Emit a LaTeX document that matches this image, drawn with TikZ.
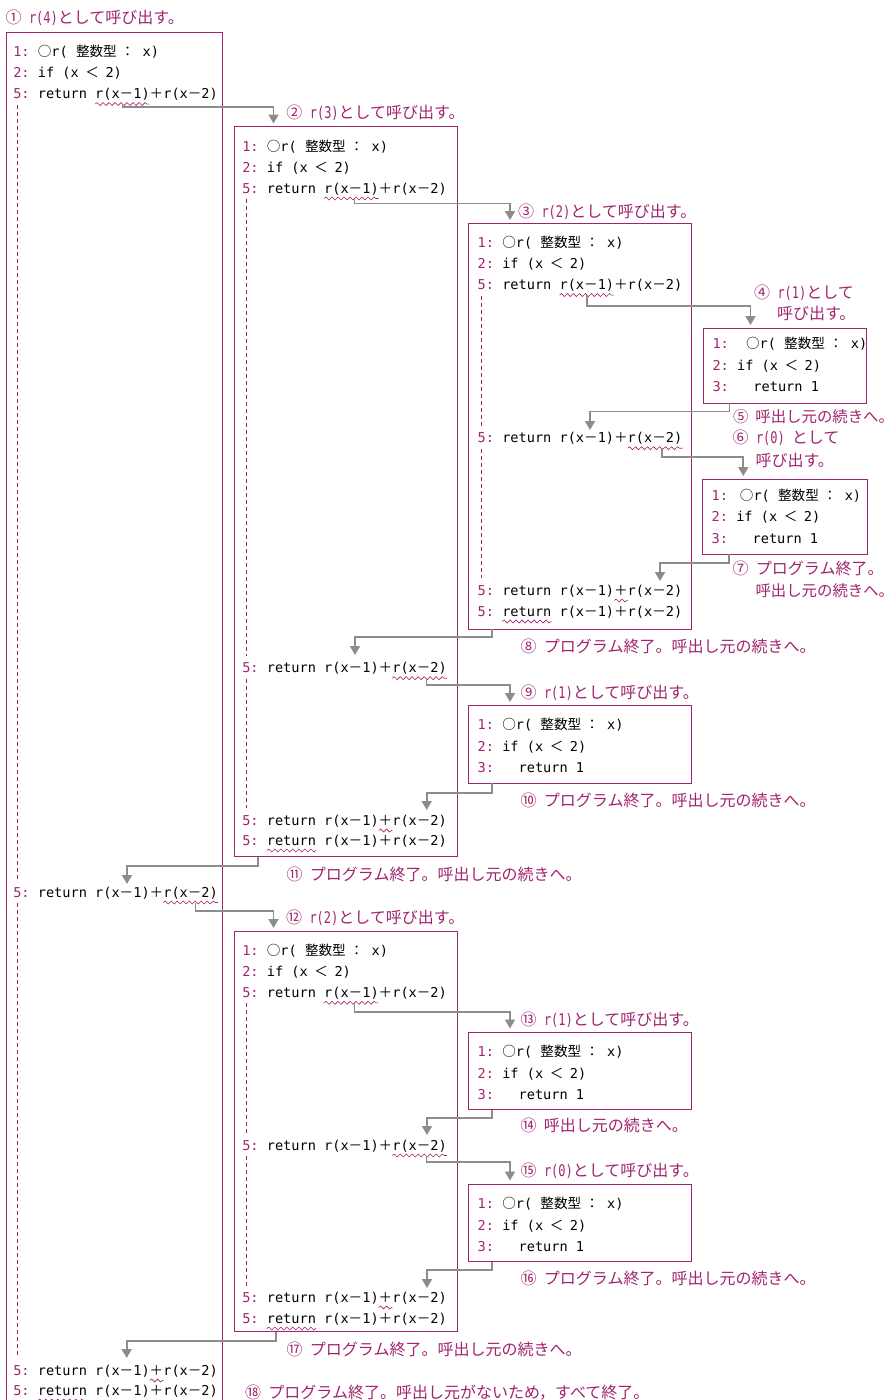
\documentclass[tikz,border=0pt]{standalone}
\usepackage{fontspec}
\usetikzlibrary{arrows.meta,decorations.pathmorphing}
\newfontfamily\cjk{Noto Sans CJK JP}
\newfontfamily\mono{DejaVu Sans Mono}
\newfontfamily\monoc{DejaVu Sans Mono}[FakeStretch=0.75]
\definecolor{mag}{RGB}{160,35,110}
\definecolor{arrgray}{RGB}{140,140,140}
\newlength\cw
\setlength\cw{8.188pt}
\newcommand\J[1]{{\cjk #1}}
\newcommand\LN[1]{\textcolor{mag}{#1}}
\newcommand\lm[1]{{\monoc\fontsize{16}{18}\selectfont #1}}
\newcommand\cfirst[4][1]{\node[code] (#2) at (#3,#4) {\LN{1:}\hspace{#1\cw}\J{○}r(\hspace{\cw}\J{整数型}\hspace{0.5\cw}\J{：}\hspace{\cw}x)};}
\newcommand\csecond[3]{\node[code] (#1) at (#2,#3) {\LN{2:}\hspace{\cw}if (x\hspace{0.8\cw}\J{＜}\hspace{0.8\cw}2)};}
\newcommand\cthird[3]{\node[code] (#1) at (#2,#3) {\LN{3:}\hspace{3\cw}return 1};}
\newcommand\cret[3]{%
  \node[code] (#1) at (#2,#3) {\LN{5:}};
  \node[code] (#1r) at ([xshift=\cw]#1.base east) {return};
  \node[code] (#1a) at ([xshift=\cw]#1r.base east) {r(x\J{－}1)};
  \node[code] (#1p) at (#1a.base east) {\J{＋}};
  \node[code] (#1b) at (#1p.base east) {r(x\J{－}2)};}
\newcommand\wav[1]{\draw[wavy] ([yshift=-5.5pt]#1.base west) -- ([yshift=-5.5pt]#1.base east);}
\tikzset{
  code/.style={anchor=base west, inner sep=0pt, outer sep=0pt, font=\mono\fontsize{13.6}{16}\selectfont, text=black},
  lab/.style={anchor=base west, inner sep=0pt, outer sep=0pt, font=\cjk\fontsize{16}{19}\selectfont, text=mag},
  labs/.style={lab, font=\cjk\fontsize{15.4}{18}\selectfont},
  frame/.style={draw=mag, line width=1pt, rectangle, inner sep=0pt, outer sep=0pt, anchor=north west},
  wavy/.style={draw=mag, line width=0.6pt, decorate, decoration={snake, amplitude=1.5pt, segment length=6pt}},
  gutter/.style={draw=mag, line width=0.7pt, dash pattern=on 4pt off 3pt},
  arr/.style={draw=arrgray, line width=1.8pt, -{Triangle[length=9pt,width=10pt]}},
}
\begin{document}
\begin{tikzpicture}[x=1pt,y=-1pt]
\useasboundingbox (0,0) rectangle (893,1400);
% ---- frames
\draw[draw=mag, line width=1pt] (6,1400) -- (6,32.3) -- (222.5,32.3) -- (222.5,1400);
\node[frame, minimum width=223pt, minimum height=730pt] (B2) at (234.3,126.7) {};
\node[frame, minimum width=223.4pt, minimum height=406pt] (B3) at (468.3,223.3) {};
\node[frame, minimum width=163pt, minimum height=75pt] (B4) at (703,328) {};
\node[frame, minimum width=164.5pt, minimum height=75pt] (B5) at (702.5,479.3) {};
\node[frame, minimum width=223.4pt, minimum height=78pt] (B6) at (468.3,705) {};
\node[frame, minimum width=223pt, minimum height=400.7pt] (B7) at (234.3,931) {};
\node[frame, minimum width=223.4pt, minimum height=77.5pt] (B8) at (468.3,1032) {};
\node[frame, minimum width=223.4pt, minimum height=77.5pt] (B9) at (468.3,1184) {};
% ---- box 1
\cfirst{b1a}{13.3}{56.6}
\csecond{b1b}{13.3}{77.6}
\cret{b1c}{13.3}{98.6}
\cret{b1d}{13.3}{897}
\cret{b1e}{13.3}{1375}
\cret{b1f}{13.3}{1395}
% ---- box 2
\cfirst{b2a}{242.3}{151}
\csecond{b2b}{242.3}{172}
\cret{b2c}{242.3}{193}
\cret{b2d}{242.3}{672.7}
\cret{b2e}{242.3}{825}
\cret{b2f}{242.3}{845}
% ---- box 3
\cfirst{b3a}{477.7}{247.6}
\csecond{b3b}{477.7}{268.6}
\cret{b3c}{477.7}{289.6}
\cret{b3d}{477.7}{442.7}
\cret{b3e}{477.7}{595}
\cret{b3f}{477.7}{616}
% ---- box 4, 5
\cfirst[2.1]{b4a}{712.5}{348.3}
\csecond{b4b}{712.5}{370}
\cthird{b4c}{712.5}{391.3}
\cfirst[1.45]{b5a}{711.7}{500}
\csecond{b5b}{711.7}{521.7}
\cthird{b5c}{711.7}{543.3}
% ---- box 6
\cfirst{b6a}{477.7}{729.3}
\csecond{b6b}{477.7}{751}
\cthird{b6c}{477.7}{772.7}
% ---- box 7
\cfirst{b7a}{242.3}{955.3}
\csecond{b7b}{242.3}{976.3}
\cret{b7c}{242.3}{997.3}
\cret{b7d}{242.3}{1150}
\cret{b7e}{242.3}{1302}
\cret{b7f}{242.3}{1323}
% ---- box 8, 9
\cfirst{b8a}{477.7}{1056.3}
\csecond{b8b}{477.7}{1078}
\cthird{b8c}{477.7}{1099.7}
\cfirst{b9a}{477.7}{1208.3}
\csecond{b9b}{477.7}{1230}
\cthird{b9c}{477.7}{1251.7}
% ---- wavy underlines
\wav{b1ca}\wav{b1db}\wav{b1ep}\wav{b1fr}
\wav{b2ca}\wav{b2db}\wav{b2ep}\wav{b2fr}
\wav{b3ca}\wav{b3db}\wav{b3ep}\wav{b3fr}
\wav{b7ca}\wav{b7db}\wav{b7ep}\wav{b7fr}
% ---- gutters
\draw[gutter] (17,104.5) -- (17,880);
\draw[gutter] (17,903) -- (17,1357);
\draw[gutter] (246,199) -- (246,656);
\draw[gutter] (246,679) -- (246,808);
\draw[gutter] (481.4,295.5) -- (481.4,426);
\draw[gutter] (481.4,449) -- (481.4,578);
\draw[gutter] (246,1003) -- (246,1133);
\draw[gutter] (246,1156) -- (246,1286);
% ---- labels
\node[lab] (l1) at (5.5,23.5) {①\hspace{7.5pt}\lm{r(4)}として呼び出す。};
\node[lab] (l2) at (286.3,118.5) {②\hspace{7.5pt}\lm{r(3)}として呼び出す。};
\node[lab] (l3) at (518,217) {③\hspace{7.5pt}\lm{r(2)}として呼び出す。};
\node[lab] (l4a) at (754,298.7) {④\hspace{7.5pt}\lm{r(1)}として};
\node[lab] (l4b) at (777,319) {呼び出す。};
\node[labs] (l5) at (733,422) {⑤\hspace{7pt}呼出し元の続きへ。\hspace{-0.5em}};
\node[lab] (l6a) at (732.5,443.5) {⑥\hspace{7.5pt}\lm{r(0)}\hspace{7pt}として};
\node[lab] (l6b) at (755.5,466) {呼び出す。};
\node[lab] (l7a) at (732.5,574.3) {⑦\hspace{7.5pt}プログラム終了。};
\node[labs] (l7b) at (755.5,596) {呼出し元の続きへ。\hspace{-0.5em}};
\node[lab] (l8) at (520.5,652) {⑧\hspace{7.5pt}プログラム終了。呼出し元の続きへ。};
\node[lab] (l9) at (520.5,698) {⑨\hspace{7.5pt}\lm{r(1)}として呼び出す。};
\node[lab] (l10) at (520.5,806) {⑩\hspace{7.5pt}プログラム終了。呼出し元の続きへ。};
\node[lab] (l11) at (286.5,880) {⑪\hspace{7.5pt}プログラム終了。呼出し元の続きへ。};
\node[lab] (l12) at (286,923) {⑫\hspace{7.5pt}\lm{r(2)}として呼び出す。};
\node[lab] (l13) at (520.5,1025) {⑬\hspace{7.5pt}\lm{r(1)}として呼び出す。};
\node[lab] (l14) at (520.5,1131) {⑭\hspace{7.5pt}呼出し元の続きへ。};
\node[lab] (l15) at (520.5,1176) {⑮\hspace{7.5pt}\lm{r(0)}として呼び出す。};
\node[lab] (l16) at (520.5,1284) {⑯\hspace{7.5pt}プログラム終了。呼出し元の続きへ。};
\node[lab] (l17) at (286.5,1355) {⑰\hspace{7.5pt}プログラム終了。呼出し元の続きへ。};
\node[lab] (l18) at (245,1398) {⑱\hspace{7.5pt}プログラム終了。呼出し元がないため，すべて終了。};
% ---- arrows
\coordinate (s1) at ([yshift=-5.5pt]b1ca.base);            \coordinate (t1) at (273.5,123.5);
\coordinate (s2) at ([xshift=3pt,yshift=-5.5pt]b2ca.base); \coordinate (t2) at (510,220);
\coordinate (s3) at ([yshift=-5.5pt]b3ca.base);            \coordinate (t3) at (750.5,325);
\coordinate (s4) at ([xshift=26.5pt]B4.south west);        \coordinate (t4) at (590,430);
\coordinate (s5) at ([xshift=7pt,yshift=-5.5pt]b3db.base); \coordinate (t5) at (743.3,476);
\coordinate (s6) at ([xshift=26.8pt]B5.south west);        \coordinate (t6) at (660,581);
\coordinate (s7) at ([xshift=23.4pt]B3.south west);        \coordinate (t7) at (355,655);
\coordinate (s8) at ([xshift=7pt,yshift=-5.5pt]b2db.base); \coordinate (t8) at (510,702);
\coordinate (s9) at ([xshift=23.4pt]B6.south west);        \coordinate (t9) at (426.7,810);
\coordinate (s10) at ([xshift=24pt]B2.south west);         \coordinate (t10) at (127,884);
\coordinate (s11) at ([xshift=5pt,yshift=-5.5pt]b1db.base);\coordinate (t11) at (273.5,928);
\coordinate (s12) at ([xshift=3pt,yshift=-5.5pt]b7ca.base);\coordinate (t12) at (510,1028.5);
\coordinate (s13) at ([xshift=23.4pt]B8.south west);       \coordinate (t13) at (427,1135);
\coordinate (s14) at ([xshift=7pt,yshift=-5.5pt]b7db.base);\coordinate (t14) at (510,1180.5);
\coordinate (s15) at ([xshift=23.4pt]B9.south west);       \coordinate (t15) at (427,1288);
\coordinate (s16) at ([xshift=41.7pt]B7.south west);       \coordinate (t16) at (126.7,1358);
\draw[arr] (s1) -- (s1 |- 0,107) -| (t1);
\draw[arr] (s2) -- (s2 |- 0,203.5) -| (t2);
\draw[arr] (s3) -- (s3 |- 0,306) -| (t3);
\draw[arr] (s4) -- (s4 |- 0,411.5) -| (t4);
\draw[arr] (s5) -- (s5 |- 0,457.3) -| (t5);
\draw[arr] (s6) -- (s6 |- 0,562.7) -| (t6);
\draw[arr] (s7) -- (s7 |- 0,637.3) -| (t7);
\draw[arr] (s8) -- (s8 |- 0,685) -| (t8);
\draw[arr] (s9) -- (s9 |- 0,792.7) -| (t9);
\draw[arr] (s10) -- (s10 |- 0,866) -| (t10);
\draw[arr] (s11) -- (s11 |- 0,911) -| (t11);
\draw[arr] (s12) -- (s12 |- 0,1012) -| (t12);
\draw[arr] (s13) -- (s13 |- 0,1118) -| (t13);
\draw[arr] (s14) -- (s14 |- 0,1162) -| (t14);
\draw[arr] (s15) -- (s15 |- 0,1270) -| (t15);
\draw[arr] (s16) -- (s16 |- 0,1340.7) -| (t16);
\end{tikzpicture}
\end{document}
